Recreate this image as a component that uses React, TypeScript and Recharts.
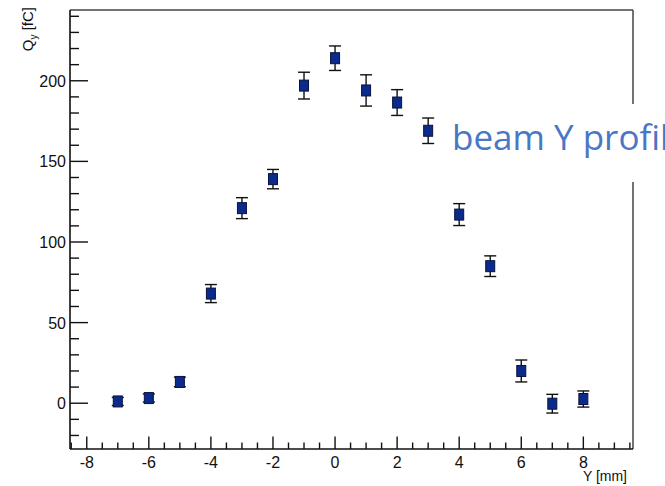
import React from "react";
import {
  ErrorBar,
  Label,
  ReferenceLine,
  Scatter,
  ScatterChart,
  XAxis,
  YAxis,
} from "recharts";

// beam position [mm], measured charge [fC], uncertainty [fC]
const positions = [-7, -6, -5, -4, -3, -2, -1, 0, 1, 2, 3, 4, 5, 6, 7, 8];
const charge = [1.1, 3.2, 13.2, 68, 121, 139, 197, 214, 194, 186.5, 169, 117, 85, 20, -0.3, 2.6];
const chargeErr = [2.5, 2.5, 3, 5.6, 6.5, 6, 8.3, 7.6, 9.7, 8, 7.9, 6.8, 6.4, 6.8, 5.8, 5];

const xTicks = [
  -8.5, -8, -7.5, -7, -6.5, -6, -5.5, -5, -4.5, -4, -3.5, -3, -2.5, -2, -1.5, -1, -0.5, 0,
  0.5, 1, 1.5, 2, 2.5, 3, 3.5, 4, 4.5, 5, 5.5, 6, 6.5, 7, 7.5, 8, 8.5, 9, 9.5,
];
const yTicks = [
  -20, -10, 0, 10, 20, 30, 40, 50, 60, 70, 80, 90, 100, 110, 120, 130, 140, 150, 160, 170,
  180, 190, 200, 210, 220, 230, 240,
];
const xLabelTicks = [-8, -6, -4, -2, 0, 2, 4, 6, 8];
const yLabelTicks = [0, 50, 100, 150, 200];

const X_DOMAIN: [number, number] = [-8.54, 9.6];
const Y_DOMAIN: [number, number] = [-28.4, 243.9];

const data = positions.map((x, i) => ({ x, q: charge[i], err: chargeErr[i] }));

const FONT = "'Liberation Sans', Arial, Helvetica, sans-serif";

function XTick(props: any) {
  const { x, y, payload } = props;
  const major = xLabelTicks.includes(payload.value);
  return (
    <g>
      <line x1={x} x2={x} y1={y} y2={y - (major ? 12.5 : 6.5)} stroke="#111" strokeWidth={1.4} />
      {major && (
        <text x={x} y={y + 19} textAnchor="middle" fontSize={16} fontFamily={FONT} fill="#111">
          {payload.value}
        </text>
      )}
    </g>
  );
}

function YTick(props: any) {
  const { x, y, payload } = props;
  const major = yLabelTicks.includes(payload.value);
  return (
    <g>
      <line x1={x} x2={x + (major ? 18 : 9)} y1={y} y2={y} stroke="#111" strokeWidth={1.4} />
      {major && (
        <text x={x - 4} y={y + 6} textAnchor="end" fontSize={16} fontFamily={FONT} fill="#111">
          {payload.value}
        </text>
      )}
    </g>
  );
}

function SquareMarker(props: any) {
  const { cx, cy } = props;
  return (
    <rect x={cx - 4.5} y={cy - 5.5} width={9} height={11} fill="#0a2a8c" stroke="#0a1240" strokeWidth={1} />
  );
}

export default function App() {
  return (
    <div
      style={{
        position: "absolute",
        left: 0,
        top: 0,
        width: 665,
        height: 486,
        overflow: "hidden",
        background: "#fff",
      }}
    >
      <ScatterChart width={665} height={486} margin={{ top: 10, right: 32, left: 0, bottom: 0 }}>
        <XAxis
          type="number"
          dataKey="x"
          domain={X_DOMAIN}
          allowDataOverflow
          ticks={xTicks}
          interval={0}
          tickSize={0}
          tickMargin={0}
          tickLine={false}
          tick={<XTick />}
          height={37}
          axisLine={{ stroke: "#111", strokeWidth: 1.6 }}
        >
          <Label
            content={() => (
              <text x={627} y={481} textAnchor="end" fontSize={14} fontFamily={FONT} fill="#111">
                Y [mm]
              </text>
            )}
          />
        </XAxis>
        <YAxis
          type="number"
          dataKey="q"
          domain={Y_DOMAIN}
          allowDataOverflow
          ticks={yTicks}
          interval={0}
          tickSize={0}
          tickMargin={0}
          tickLine={false}
          tick={<YTick />}
          width={70}
          axisLine={{ stroke: "#111", strokeWidth: 1.6 }}
        >
          <Label
            content={() => (
              <text
                x={0}
                y={0}
                transform="translate(33,7) rotate(-90)"
                textAnchor="end"
                fontSize={15}
                fontFamily={FONT}
                fill="#111"
              >
                Q
                <tspan fontSize={10} dy={4}>
                  y
                </tspan>
                <tspan dy={-4}> [fC]</tspan>
              </text>
            )}
          />
        </YAxis>
        <ReferenceLine y={Y_DOMAIN[1]} stroke="#444" strokeWidth={1.5} />
        <ReferenceLine x={X_DOMAIN[1]} stroke="#444" strokeWidth={1.5} />
        <Scatter data={data} shape={<SquareMarker />} isAnimationActive={false}>
          <ErrorBar dataKey="err" direction="y" width={6} stroke="#111" strokeWidth={1.4} />
        </Scatter>
      </ScatterChart>
      <div
        style={{
          position: "absolute",
          left: 445,
          top: 104,
          width: 240,
          height: 78,
          background: "#fff",
        }}
      >
        <div
          style={{
            position: "absolute",
            left: 7,
            top: 15,
            whiteSpace: "nowrap",
            fontFamily: "'Open Sans', 'Noto Sans', sans-serif",
            fontSize: 35,
            lineHeight: "35px",
            color: "#4a76c6",
          }}
        >
          beam Y profile
        </div>
      </div>
    </div>
  );
}
